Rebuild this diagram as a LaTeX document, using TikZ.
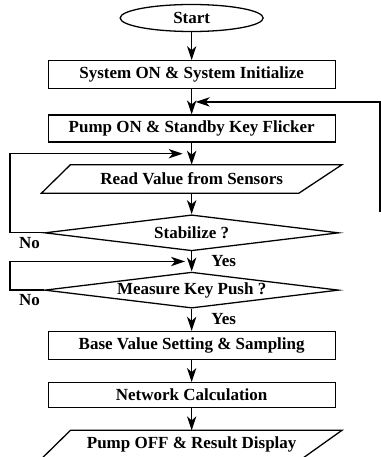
\documentclass[tikz,border=0pt]{standalone}
\usepackage{fontspec}
\setmainfont{Liberation Serif}
\usepackage{tikz}
\usetikzlibrary{shapes,arrows.meta,positioning,calc}

\begin{document}
\begin{tikzpicture}[align=center, node distance=0.66cm and 0cm, font=\fontsize{14.5}{17}\selectfont\bfseries]
    \tikzset{
        n/.style        =   { rectangle
                            , draw=black
                            , line width=1.1pt
                            , minimum width=8.61cm
                            , minimum height=0.84cm
                            , inner sep=1pt
        }
        , term/.style   =   { ellipse
                            , draw=black
                            , line width=1.1pt
                            , minimum width=4.29cm
                            , minimum height=0.81cm
                            , inner sep=0pt
        }
        , io/.style     =   { rectangle
                            , minimum width=9cm
                            , minimum height=0.84cm
                            , inner sep=0pt
        }
        , dec/.style    =   { diamond
                            , shape aspect=8
                            , draw=black
                            , line width=1.1pt
                            , minimum width=8.82cm
                            , minimum height=1.08cm
                            , inner sep=0pt
        }
        , arrow/.style  =   { line width=1.1pt
                            , -{Stealth[length=0.42cm, width=0.28cm, inset=0.12cm]}
        }
        , line/.style   =   { line width=1.1pt
        }
    }
    \useasboundingbox (0,0) rectangle (11.43,-13.71);

    \node(0)[term] at (5.75,-0.54)                      {Start};
    \node(1)[n, below=0.84cm of 0]                      {System ON \& System Initialize};
    \node(2)[n, below=0.75cm of 1, minimum height=0.81cm] {Pump ON \& Standby Key Flicker};
    \node(3)[io, below=of 2]                            {Read Value from Sensors};
    \node(4)[dec, below=0.63cm of 3]                    {Stabilize ?};
    \node(5)[dec, below=0.6cm of 4]                     {Measure Key Push ?};
    \node(6)[n, below=of 5]                             {Base Value Setting \& Sampling};
    \node(7)[n, below=of 6, minimum height=0.75cm]      {Network Calculation};
    \node(8)[io, below=of 7]                            {Pump OFF \& Result Display};

    % slanted outlines of the two data boxes
    \draw[line] (3.south west) -- ([xshift=0.87cm]3.north west) -- (3.north east)
                -- ([xshift=-1.29cm]3.south east) -- cycle;
    \draw[line] (8.south west) -- ([xshift=0.87cm]8.north west) -- (8.north east)
                -- ([xshift=-1.2cm]8.south east) -- cycle;

    \node(no1)[below left=0pt and 0pt of 4.west]        {No};
    \node(no2)[below left=0pt and 0pt of 5.west]        {No};
    \node(yes1)[below right=0pt and 0.47cm of 4.south]  {Yes};
    \node(yes2)[below right=0pt and 0.47cm of 5.south]  {Yes};

    \coordinate(j1) at ($(1.south)!0.5!(2.north)$);
    \coordinate(j2) at ($(2.south)!0.5!(3.north)$);
    \coordinate(j3) at ($(4.south)!0.5!(5.north)$);
    \coordinate(l)  at (0.3,0);
    \coordinate(r)  at (11.4,-6.36);
    \coordinate(e)  at (5.75,-13.71);

    \draw[arrow] (0) -- (1);
    \draw[arrow] (1) -- (2);
    \draw[arrow] (2) -- (3);
    \draw[arrow] (3) -- (4);
    \draw[arrow] (4) -- (5);
    \draw[arrow] (5) -- (6);
    \draw[arrow] (6) -- (7);
    \draw[arrow] (7) -- (8);
    \draw[line]  (8) -- (e);

    % loops back
    \draw[arrow] (r) |- ([xshift=0.12cm]j1);
    \draw[arrow] (4.west) -- (4.west -| l) |- ([xshift=-0.27cm]j2);
    \draw[arrow] (5.west) -- (5.west -| l) |- ([xshift=-0.2cm]j3);
\end{tikzpicture}
\end{document}
